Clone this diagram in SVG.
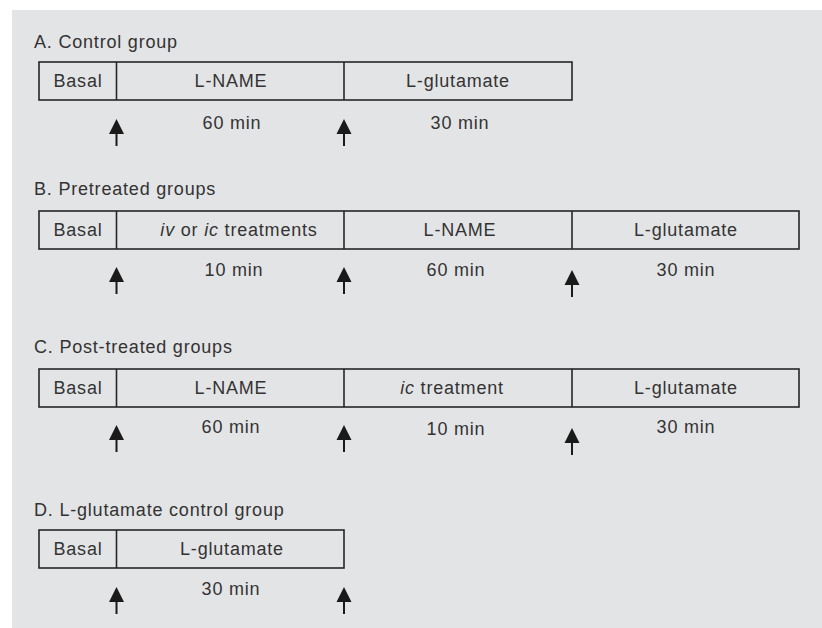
<svg xmlns="http://www.w3.org/2000/svg" xmlns:xlink="http://www.w3.org/1999/xlink" width="822" height="628" viewBox="0 0 822 628">
<style>
text{font-family:"Liberation Sans",Arial,sans-serif;font-size:18px;fill:#333;letter-spacing:0.8px}
.t{text-anchor:start}
.c{text-anchor:middle}
.box{fill:none;stroke:#262626;stroke-width:1.6}
.div{stroke:#262626;stroke-width:1.6}
.i{font-style:italic}
</style>
<defs>
<g id="arr">
<polygon points="0,0 7.5,15 -7.5,15" fill="#1a1a1a"/>
<line x1="0" y1="14" x2="0" y2="27" stroke="#1a1a1a" stroke-width="2"/>
</g>
</defs>
<rect x="12" y="10" width="810" height="618" fill="#e3e4e6"/>

<g id="groupA">
<text class="t" x="34" y="48">A. Control group</text>
<rect class="box" x="39" y="62" width="533" height="38"/>
<line class="div" x1="116.5" y1="62" x2="116.5" y2="100"/>
<line class="div" x1="344" y1="62" x2="344" y2="100"/>
<text class="c" x="78" y="87">Basal</text>
<text class="c" x="231" y="87">L-NAME</text>
<text class="c" x="458" y="87">L-glutamate</text>
<text class="c" x="232" y="129">60 min</text>
<text class="c" x="460" y="129">30 min</text>
</g>

<g id="groupB">
<text class="t" x="34" y="195">B. Pretreated groups</text>
<rect class="box" x="39" y="211" width="760" height="38"/>
<line class="div" x1="116.5" y1="211" x2="116.5" y2="249"/>
<line class="div" x1="344" y1="211" x2="344" y2="249"/>
<line class="div" x1="572" y1="211" x2="572" y2="249"/>
<text class="c" x="78" y="236">Basal</text>
<text class="c" x="239" y="236"><tspan class="i">iv</tspan> or <tspan class="i">ic</tspan> treatments</text>
<text class="c" x="460" y="236">L-NAME</text>
<text class="c" x="686" y="236">L-glutamate</text>
<text class="c" x="234" y="276">10 min</text>
<text class="c" x="456" y="276">60 min</text>
<text class="c" x="686" y="276">30 min</text>
</g>

<g id="groupC">
<text class="t" x="34" y="353">C. Post-treated groups</text>
<rect class="box" x="39" y="369" width="760" height="38"/>
<line class="div" x1="116.5" y1="369" x2="116.5" y2="407"/>
<line class="div" x1="344" y1="369" x2="344" y2="407"/>
<line class="div" x1="572" y1="369" x2="572" y2="407"/>
<text class="c" x="78" y="394">Basal</text>
<text class="c" x="231" y="394">L-NAME</text>
<text class="c" x="452" y="394"><tspan class="i">ic</tspan> treatment</text>
<text class="c" x="686" y="394">L-glutamate</text>
<text class="c" x="231" y="433">60 min</text>
<text class="c" x="456" y="435">10 min</text>
<text class="c" x="686" y="433">30 min</text>
</g>

<g id="groupD">
<text class="t" x="34" y="516">D. L-glutamate control group</text>
<rect class="box" x="39" y="530" width="305" height="38"/>
<line class="div" x1="116.5" y1="530" x2="116.5" y2="568"/>
<text class="c" x="78" y="555">Basal</text>
<text class="c" x="232" y="555">L-glutamate</text>
<text class="c" x="231" y="595">30 min</text>
</g>

<g id="connectors">
<use xlink:href="#arr" x="116.5" y="119"/>
<use xlink:href="#arr" x="344" y="119"/>
<use xlink:href="#arr" x="116.5" y="267"/>
<use xlink:href="#arr" x="344" y="267"/>
<use xlink:href="#arr" x="572" y="270"/>
<use xlink:href="#arr" x="116.5" y="425"/>
<use xlink:href="#arr" x="344" y="425"/>
<use xlink:href="#arr" x="572" y="428"/>
<use xlink:href="#arr" x="116.5" y="587"/>
<use xlink:href="#arr" x="344" y="587"/>
</g>
</svg>
